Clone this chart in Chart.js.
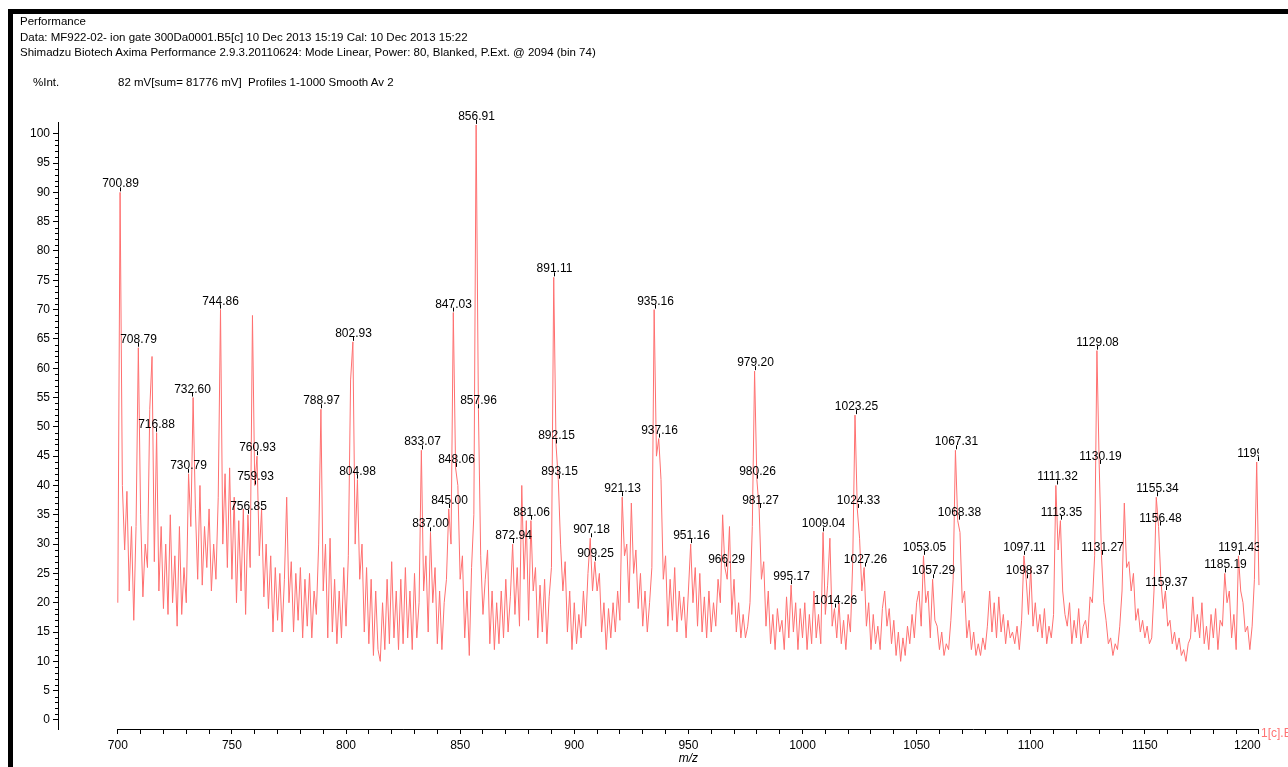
<!DOCTYPE html>
<html>
<head>
<meta charset="utf-8">
<script src="https://cdn.jsdelivr.net/npm/chart.js@4.4.1/dist/chart.umd.min.js"></script>
<style>
  html, body { margin: 0; padding: 0; background: #fff; }
  #wrap { position: relative; width: 1288px; height: 767px; overflow: hidden; }
  #frame { position: absolute; left: 8px; top: 9px; width: 1300px; height: 780px;
           border-top: 5px solid #000; border-left: 5px solid #000; box-sizing: border-box; }
  .hdr { position: absolute; font: 11.5px "Liberation Sans", Arial, sans-serif; color: #000; white-space: nowrap; }
  canvas { position: absolute; left: 0; top: 0; }
</style>
</head>
<body>
<div id="wrap">
  <canvas id="spectrum" width="1288" height="767"></canvas>
  <div id="frame"></div>
  <div class="hdr" style="left:20px; top:15px;">Performance</div>
  <div class="hdr" style="left:20px; top:31px;">Data: MF922-02- ion gate 300Da0001.B5[c] 10 Dec 2013 15:19 Cal: 10 Dec 2013 15:22</div>
  <div class="hdr" style="left:20px; top:46px;">Shimadzu Biotech Axima Performance 2.9.3.20110624: Mode Linear, Power: 80, Blanked, P.Ext. @ 2094 (bin 74)</div>
  <div class="hdr" style="left:33px; top:76px;">%Int.</div>
  <div class="hdr" style="left:118px; top:76px;">82 mV[sum= 81776 mV]&nbsp; Profiles 1-1000 Smooth Av 2</div>
</div>
<script>
// spectrum sampled at 1 m/z steps, starting at m/z 700
const mzStart = 700;
const int700 = [
  20, 90, 40, 29, 39, 22, 33, 17, 33, 63.5, 35, 21, 30, 26, 53, 62, 27, 49, 22, 33,
  19, 30, 18, 35, 20, 28, 16, 33, 18, 26, 20, 42, 33, 55, 36, 24, 40, 23, 33, 26,
  36, 22, 30, 24, 38, 70, 30, 42, 26, 43, 24, 38, 20, 34, 22, 36, 18, 35, 26, 69,
  40, 45, 28, 36, 21, 30, 19, 28, 15, 26, 17, 25, 15, 24, 38, 20, 27, 15, 25, 17,
  26, 14, 24, 16, 25, 14, 22, 18, 30, 53, 22, 30, 14, 31, 15, 24, 13, 22, 14, 26
];
const int800 = [
  16, 28, 58, 64.5, 30, 41, 24, 30, 15, 26, 13, 24, 11, 22, 12, 10, 20, 12, 24, 13,
  27, 14, 22, 12, 24, 13, 26, 14, 22, 12, 25, 14, 20, 46, 22, 28, 15, 32, 20, 26,
  13, 22, 12, 20, 24, 36, 30, 69.5, 43, 40, 24, 28, 14, 22, 11, 26, 35, 101.5, 53, 28,
  18, 24, 29, 13, 22, 12, 20, 13, 22, 14, 24, 15, 21, 30, 18, 26, 16, 40, 24, 34,
  17, 34, 22, 26, 14, 23, 15, 24, 13, 21, 26, 75.5, 47, 41, 30, 22, 27, 15, 22, 12
];
const int900 = [
  20, 13, 18, 14, 22, 16, 25, 31, 22, 27, 22, 25, 15, 20, 12, 19, 14, 20, 15, 22,
  17, 38, 28, 30, 20, 37, 25, 29, 19, 25, 16, 22, 15, 20, 26, 70, 45, 48, 41, 24,
  28, 16, 24, 17, 26, 15, 22, 17, 21, 14, 22, 30, 20, 26, 16, 25, 15, 21, 14, 22,
  15, 20, 16, 24, 20, 35, 26, 24, 33, 18, 24, 15, 20, 14, 18, 14, 16, 20, 33, 59.5,
  41, 36, 24, 27, 16, 22, 13, 18, 12, 19, 15, 17, 12, 21, 14, 23, 15, 20, 12, 19
];
const int1000 = [
  14, 20, 12, 18, 13, 22, 14, 18, 13, 32, 18, 23, 31, 16, 19, 14, 20, 13, 17, 12,
  18, 15, 27, 52, 36, 31, 22, 26, 16, 20, 12, 18, 13, 16, 12, 19, 22, 16, 19, 13,
  17, 11, 15, 10, 14, 11, 16, 13, 18, 14, 20, 22, 16, 28, 20, 22, 14, 24, 17, 16,
  12, 15, 11, 13, 12, 17, 24, 46, 34, 32, 20, 22, 14, 17, 12, 15, 11, 13, 11, 14,
  12, 16, 22, 15, 20, 14, 21, 15, 18, 13, 17, 14, 15, 13, 16, 12, 17, 28, 24, 18
];
const int1100 = [
  26, 16, 20, 15, 18, 14, 19, 13, 16, 14, 18, 40, 29, 34, 22, 18, 16, 20, 13, 17,
  14, 19, 13, 16, 17, 14, 21, 20, 28, 63, 43.5, 28, 20, 17, 13, 14, 11, 13, 12, 16,
  22, 37, 26, 27, 22, 25, 17, 19, 15, 17, 14, 16, 13, 14, 22, 38, 33, 24, 19, 22,
  16, 17, 13, 15, 12, 14, 11, 12, 10, 13, 14, 21, 15, 18, 14, 20, 13, 16, 12, 18,
  14, 19, 12, 17, 16, 25, 20, 22, 14, 18, 12, 28, 22, 20, 15, 16, 12, 16, 24, 44
];
const int1200 = [23];

// labelled peaks (m/z)
const peakMz = [
  700.89, 708.79, 716.88, 730.79, 732.60, 744.86, 756.85, 759.93, 760.93, 788.97,
  802.93, 804.98, 833.07, 837.00, 845.00, 847.03, 848.06, 856.91, 857.96, 872.94,
  881.06, 891.11, 892.15, 893.15, 907.18, 909.25, 921.13, 935.16, 937.16, 951.16,
  966.29, 979.20, 980.26, 981.27, 995.17, 1009.04, 1014.26, 1023.25, 1024.33, 1027.26,
  1053.05, 1057.29, 1067.31, 1068.38, 1097.11, 1098.37, 1111.32, 1113.35, 1129.08, 1130.19,
  1131.27, 1155.34, 1156.48, 1159.37, 1185.19, 1191.43, 1199.42
];

const yTickMax = 100;
const xTickFirst = 700, xTickLast = 1200;

const intensity = [].concat(int700, int800, int900, int1000, int1100, int1200);
const points = intensity.map((v, i) => ({ x: mzStart + i, y: v }));

const FONT = '"Liberation Sans", Arial, sans-serif';
Chart.defaults.font.family = FONT;
Chart.defaults.font.size = 12;
Chart.defaults.color = '#000';

const decor = {
  id: 'decor',
  afterDraw(chart) {
    const { ctx, chartArea, scales: { x, y } } = chart;
    ctx.save();
    ctx.strokeStyle = '#000';
    ctx.lineWidth = 1;
    // x axis line only over the m/z range
    const yb = Math.round(chartArea.bottom) + 0.5;
    ctx.beginPath();
    ctx.moveTo(x.getPixelForValue(xTickFirst), yb);
    ctx.lineTo(x.getPixelForValue(xTickLast), yb);
    // y minor ticks
    for (let v = 0; v <= yTickMax; v++) {
      if (v % 5 === 0) continue;
      const py = Math.round(y.getPixelForValue(v)) + 0.5;
      ctx.moveTo(chartArea.left - 3, py);
      ctx.lineTo(chartArea.left, py);
    }
    ctx.stroke();

    // axis title
    ctx.fillStyle = '#000';
    ctx.font = 'italic 12px ' + FONT;
    ctx.textAlign = 'center';
    ctx.textBaseline = 'middle';
    ctx.fillText('m/z', x.getPixelForValue(950), 759);

    // trace name, cut by the page edge
    ctx.fillStyle = '#ff7373';
    ctx.font = '12px ' + FONT;
    ctx.textAlign = 'left';
    ctx.fillText('1[c].B5', x.getPixelForValue(xTickLast) + 2, 734);

    // peak labels clipped at the right plot edge
    ctx.beginPath();
    ctx.rect(0, 0, chartArea.right, chart.height);
    ctx.clip();
    ctx.fillStyle = '#000';
    ctx.textAlign = 'center';
    ctx.textBaseline = 'alphabetic';
    ctx.beginPath();
    peakMz.forEach(m => {
      const h = intensity[Math.round(m - mzStart)];
      const px = Math.round(x.getPixelForValue(m)) + 0.5;
      const py = y.getPixelForValue(h);
      ctx.moveTo(px, py - 1);
      ctx.lineTo(px, py - 5);
      ctx.fillText(m.toFixed(2), px, py - 5);
    });
    ctx.stroke();
    ctx.restore();
  }
};

new Chart(document.getElementById('spectrum'), {
  type: 'line',
  data: {
    datasets: [{
      data: points,
      borderColor: '#ff7070',
      borderWidth: 1,
      pointRadius: 0,
      tension: 0,
      fill: false,
      clip: false
    }]
  },
  options: {
    responsive: false,
    animation: false,
    events: [],
    layout: { padding: { left: 8, top: 122, right: 26, bottom: 0 } },
    plugins: { legend: { display: false }, tooltip: { enabled: false } },
    scales: {
      x: {
        type: 'linear',
        min: 673.8,
        max: 1200,
        afterBuildTicks: s => {
          const t = [];
          for (let v = xTickFirst; v <= xTickLast; v += 10) t.push({ value: v });
          s.ticks = t;
        },
        afterFit: s => { s.height = 38; },
        border: { display: false },
        grid: { drawOnChartArea: false, drawTicks: true, tickLength: 5, color: '#000' },
        ticks: {
          autoSkip: false,
          maxRotation: 0,
          padding: 4,
          color: '#000',
          callback: v => v === xTickLast ? '1200\u00a0\u00a0\u00a0\u00a0\u00a0\u00a0\u00a0' : (v % 50 === 0 ? String(v) : '')
        }
      },
      y: {
        min: -1.54,
        max: 102,
        afterBuildTicks: s => {
          const t = [];
          for (let v = 0; v <= yTickMax; v += 5) t.push({ value: v });
          s.ticks = t;
        },
        afterFit: s => { s.width = 50; },
        border: { display: true, color: '#000' },
        grid: { drawOnChartArea: false, drawTicks: true, tickLength: 5, color: '#000' },
        ticks: { autoSkip: false, padding: 3, color: '#000' }
      }
    }
  },
  plugins: [decor]
});
</script>
</body>
</html>
